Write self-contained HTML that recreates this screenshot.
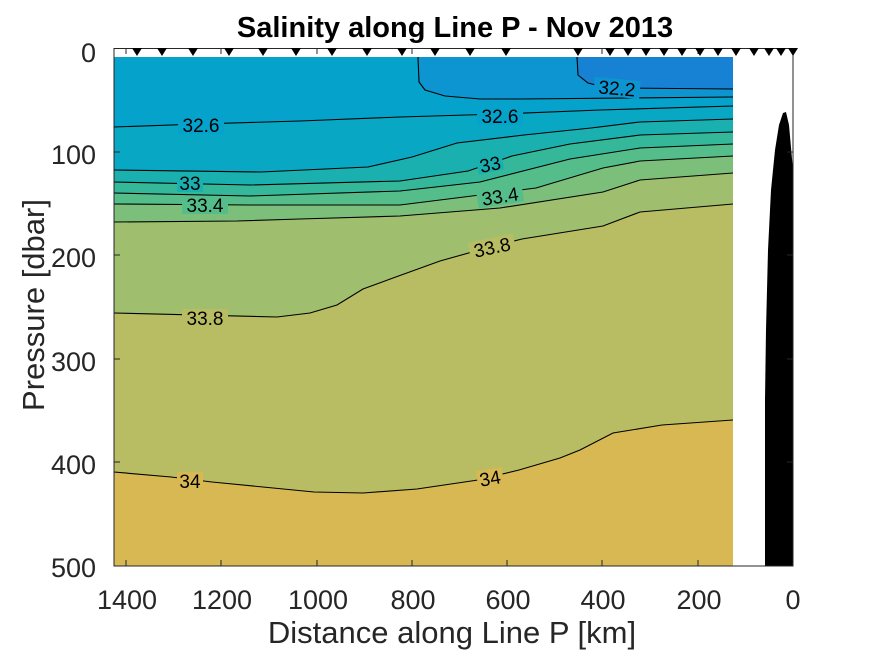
<!DOCTYPE html>
<html><head><meta charset="utf-8"><style>
body{margin:0;background:#fff}
svg{display:block}
text{font-family:"Liberation Sans",sans-serif}
</style></head><body>
<svg width="875" height="656" viewBox="0 0 875 656" xmlns="http://www.w3.org/2000/svg">
<rect width="875" height="656" fill="#fff"/>
<rect x="114" y="57" width="619" height="509" fill="#d8b853"/>
<polygon fill="#b8bc62" points="114,472 171,477 212,482 314,492 363,493 417,489 478,480 519,470 560,458 580,450 613,433 662,425 733,420 733,57 114,57"/>
<polygon fill="#9fbf6e" points="114,313 277,317 310,313 337,305 363,289 393,278 440,261 490,247 522,239 603,226 640,212 733,204 733,57 114,57"/>
<polygon fill="#7cbf7a" points="114,222 237,221 300,219 400,216 500,208 603,192 640,180 733,173 733,57 114,57"/>
<polygon fill="#55bd8a" points="114,204 250,205 400,205 536,188 603,168 640,161 733,156 733,57 114,57"/>
<polygon fill="#35b89a" points="114,193 250,196 400,191 480,182 570,159 640,148 733,144 733,57 114,57"/>
<polygon fill="#1ab0b0" points="114,182 250,185 400,181 468,171 512,156 570,144 640,135 733,132 733,57 114,57"/>
<polygon fill="#08a8c4" points="114,170 261,172 368,167 412,157 457,143 524,135 591,128 640,122 733,119 733,57 114,57"/>
<polygon fill="#05a2cb" points="114,127 200,124 300,121 400,117 500,114 600,110 733,106 733,57 114,57"/>
<polygon fill="#0c95d1" points="418,57 419,82 425,90 445,96 480,99 520,99 733,97 733,57"/>
<polygon fill="#1782d3" points="577,57 578,75 588,83 600,86 620,88 733,89 733,57"/>
<g fill="none" stroke="#000" stroke-width="1.1">
<polyline points="114,472 171,477 212,482 314,492 363,493 417,489 478,480 519,470 560,458 580,450 613,433 662,425 733,420"/>
<polyline points="114,313 277,317 310,313 337,305 363,289 393,278 440,261 490,247 522,239 603,226 640,212 733,204"/>
<polyline points="114,222 237,221 300,219 400,216 500,208 603,192 640,180 733,173"/>
<polyline points="114,204 250,205 400,205 536,188 603,168 640,161 733,156"/>
<polyline points="114,193 250,196 400,191 480,182 570,159 640,148 733,144"/>
<polyline points="114,182 250,185 400,181 468,171 512,156 570,144 640,135 733,132"/>
<polyline points="114,170 261,172 368,167 412,157 457,143 524,135 591,128 640,122 733,119"/>
<polyline points="114,127 200,124 300,121 400,117 500,114 600,110 733,106"/>
<polyline points="418,57 419,82 425,90 445,96 480,99 520,99 733,97"/>
<polyline points="577,57 578,75 588,83 600,86 620,88 733,89"/>
</g>
<g font-size="19" fill="#000" text-anchor="middle">
<g transform="rotate(5 617 88)"><rect x="594" y="79" width="46" height="18" fill="#0c95d1"/><text x="617" y="95">32.2</text></g>
<rect x="178" y="116" width="46" height="18" fill="#05a2cb"/><text x="201" y="132">32.6</text>
<rect x="477" y="107" width="46" height="18" fill="#05a2cb"/><text x="500" y="123">32.6</text>
<rect x="177" y="175" width="26" height="17" fill="#1ab0b0"/><text x="190" y="190">33</text>
<g transform="rotate(-12 490 164)"><rect x="477" y="155" width="26" height="17" fill="#1ab0b0"/><text x="490" y="171">33</text></g>
<rect x="182" y="197" width="46" height="17" fill="#55bd8a"/><text x="205" y="212">33.4</text>
<g transform="rotate(-9 500 196)"><rect x="477" y="187" width="46" height="18" fill="#55bd8a"/><text x="500" y="203">33.4</text></g>
<rect x="182" y="309" width="46" height="18" fill="#b8bc62"/><text x="205" y="325">33.8</text>
<g transform="rotate(-12 492 247)"><rect x="469" y="238" width="46" height="18" fill="#b8bc62"/><text x="492" y="254">33.8</text></g>
<rect x="177" y="472" width="26" height="18" fill="#d8b853"/><text x="190" y="488">34</text>
<g transform="rotate(-10 490 478)"><rect x="477" y="469" width="26" height="18" fill="#d8b853"/><text x="490" y="485">34</text></g>
</g>
<path d="M765,566 L765,400 766,330 768,250 771,190 775,150 779,125 783,113 786,112 789,125 793,170 793,566 Z" fill="#000"/>
<rect x="114" y="48.5" width="679" height="517.5" fill="none" stroke="#262626" stroke-width="1"/>
<g stroke="#262626" stroke-width="1">
<line x1="126" y1="566" x2="126" y2="560"/><line x1="221" y1="566" x2="221" y2="560"/><line x1="317" y1="566" x2="317" y2="560"/><line x1="412" y1="566" x2="412" y2="560"/><line x1="507" y1="566" x2="507" y2="560"/><line x1="602" y1="566" x2="602" y2="560"/><line x1="698" y1="566" x2="698" y2="560"/>
<line x1="126" y1="48" x2="126" y2="54"/><line x1="221" y1="48" x2="221" y2="54"/><line x1="317" y1="48" x2="317" y2="54"/><line x1="412" y1="48" x2="412" y2="54"/><line x1="507" y1="48" x2="507" y2="54"/><line x1="602" y1="48" x2="602" y2="54"/><line x1="698" y1="48" x2="698" y2="54"/>
<line x1="114" y1="152" x2="120" y2="152"/><line x1="114" y1="255" x2="120" y2="255"/><line x1="114" y1="359" x2="120" y2="359"/><line x1="114" y1="462" x2="120" y2="462"/>
<line x1="793" y1="152" x2="787" y2="152"/><line x1="793" y1="255" x2="787" y2="255"/><line x1="793" y1="359" x2="787" y2="359"/><line x1="793" y1="462" x2="787" y2="462"/>
</g>
<g fill="#000">
<polygon points="132,48 142,48 137,56"/><polygon points="157,48 167,48 162,56"/><polygon points="188,48 198,48 193,56"/><polygon points="224,48 234,48 229,56"/><polygon points="258,48 268,48 263,56"/><polygon points="291,48 301,48 296,56"/><polygon points="327,48 337,48 332,56"/><polygon points="362,48 372,48 367,56"/><polygon points="397,48 407,48 402,56"/><polygon points="430,48 440,48 435,56"/><polygon points="465,48 475,48 470,56"/><polygon points="501,48 511,48 506,56"/><polygon points="573,48 583,48 578,56"/><polygon points="605,48 615,48 610,56"/><polygon points="623,48 633,48 628,56"/><polygon points="641,48 651,48 646,56"/><polygon points="659,48 669,48 664,56"/><polygon points="677,48 687,48 682,56"/><polygon points="695,48 705,48 700,56"/><polygon points="713,48 723,48 718,56"/><polygon points="731,48 741,48 736,56"/><polygon points="749,48 759,48 754,56"/><polygon points="764,48 774,48 769,56"/><polygon points="776,48 786,48 781,56"/><polygon points="788,48 798,48 793,56"/>
</g>
<g font-size="27" fill="#262626">
<g text-anchor="middle">
<text x="127" y="609">1400</text><text x="222" y="609">1200</text><text x="318" y="609">1000</text><text x="413" y="609">800</text><text x="508" y="609">600</text><text x="603" y="609">400</text><text x="699" y="609">200</text><text x="793" y="609">0</text>
</g>
<g text-anchor="end">
<text x="96" y="62">0</text><text x="96" y="164">100</text><text x="96" y="267">200</text><text x="96" y="371">300</text><text x="96" y="474">400</text><text x="96" y="577">500</text>
</g>
</g>
<text x="452" y="643" font-size="31" fill="#262626" text-anchor="middle">Distance along Line P [km]</text>
<text x="44" y="305" font-size="31" fill="#262626" text-anchor="middle" transform="rotate(-90 44 305)">Pressure [dbar]</text>
<text x="455" y="37" font-size="29" font-weight="bold" fill="#000" text-anchor="middle">Salinity along Line P - Nov 2013</text>
</svg>
</body></html>
